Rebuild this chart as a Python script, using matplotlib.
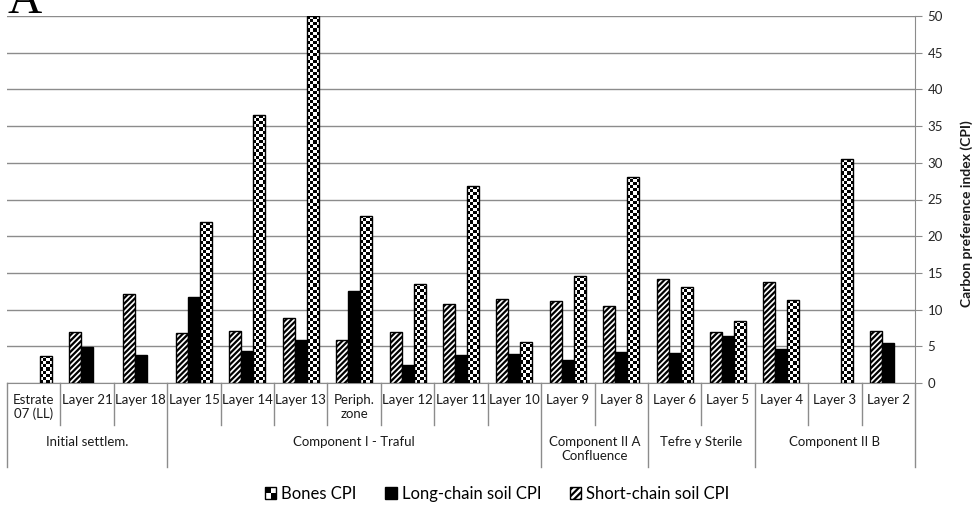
import matplotlib
matplotlib.use('Agg')
import matplotlib.pyplot as plt
import numpy as np
from matplotlib.patches import Rectangle, Patch
from matplotlib.legend_handler import HandlerBase

# Data
layers = ['Estrate\n07 (LL)', 'Layer 21', 'Layer 18', 'Layer 15', 'Layer 14', 'Layer 13',
          'Periph.\nzone', 'Layer 12', 'Layer 11', 'Layer 10', 'Layer 9', 'Layer 8',
          'Layer 6', 'Layer 5', 'Layer 4', 'Layer 3', 'Layer 2']
groups = ['Initial settlem.', 'Component I - Traful', 'Component II A\nConfluence',
          'Tefre y Sterile', 'Component II B']
group_sizes = [3, 7, 2, 2, 3]
short_chain = [np.nan, 6.9, 12.1, 6.8, 7.1, 8.85, 5.9, 7.0, 10.7, 11.4, 11.2, 10.5,
               14.2, 7.0, 13.7, np.nan, 7.1]
long_chain = [np.nan, 4.85, 3.8, 11.7, 4.4, 5.9, 12.6, 2.45, 3.8, 3.9, 3.2, 4.2,
              4.1, 6.35, 4.7, np.nan, 5.5]
bones = [3.7, np.nan, np.nan, 21.9, 36.5, 50.0, 22.8, 13.5, 26.8, 5.6, 14.6, 28.1,
         13.1, 8.5, 11.3, 30.5, np.nan]

plt.rcParams['font.family'] = ['Lato', 'DejaVu Sans']
plt.rcParams['hatch.linewidth'] = 1.6

W, H = 973, 508
fig = plt.figure(figsize=(W / 100, H / 100), dpi=100)
ax_l, ax_r, ax_t, ax_b = 7, 915, 16, 383  # pixel box of plot area
ax = fig.add_axes([ax_l / W, 1 - ax_b / H, (ax_r - ax_l) / W, (ax_b - ax_t) / H])
px_per_unit = (ax_b - ax_t) / 50.0
ax_h = ax_b - ax_t

n = len(layers)
x = np.arange(n)
bw = 0.225


def draw_bars(vals, offset, **kw):
    vals = np.asarray(vals, dtype=float)
    m = ~np.isnan(vals)
    return ax.bar(x[m] + offset, vals[m], width=bw, **kw)


draw_bars(short_chain, -bw, facecolor='white', edgecolor='black', linewidth=1.0,
          hatch='//////', zorder=3)
draw_bars(long_chain, 0, color='black', edgecolor='black', linewidth=1.0, zorder=3)
bone_bars = draw_bars(bones, bw, facecolor='none', edgecolor='black', linewidth=1.0, zorder=4)

# checkerboard fill for the bones bars
cell = 3.1
for rect in bone_bars:
    x0, w, h = rect.get_x(), rect.get_width(), rect.get_height()
    nrows = max(1, int(round(h * px_per_unit / cell)))
    pattern = np.indices((nrows, 4)).sum(axis=0) % 2
    im = ax.imshow(pattern, cmap='gray', extent=(x0, x0 + w, 0, h), aspect='auto',
                   interpolation='nearest', zorder=3.5)
    im.set_clip_path(rect)

ax.set_xlim(-0.5, n - 0.5)
ax.set_ylim(0, 50)

# axes styling
ax.yaxis.tick_right()
ax.set_yticks(np.arange(0, 51, 5))
ax.tick_params(axis='y', length=5, color='#8c8c8c', labelsize=9.5, labelcolor='#262626', pad=4)
ax.set_xticks([])
ax.grid(axis='y', color='#8c8c8c', linewidth=1.0)
ax.set_axisbelow(True)
for s in ['top', 'left']:
    ax.spines[s].set_visible(False)
ax.spines['right'].set_color('#8c8c8c')
ax.spines['bottom'].set_color('#8c8c8c')
fig.text(967 / W, 1 - 214 / H, 'Carbon preference index (CPI)', fontsize=10,
         fontweight='bold', rotation=90, ha='center', va='center', color='#1a1a1a')

# category table below the axis
tr = ax.get_xaxis_transform()
inner = (ax_b - 425) / ax_h
outer = (ax_b - 467) / ax_h
bounds = np.cumsum([0] + group_sizes)
for b in range(n + 1):
    y1 = outer if b in bounds else inner
    ax.plot([b - 0.5, b - 0.5], [0, y1], color='#8c8c8c', lw=1.0, transform=tr, clip_on=False)
for i, lab in enumerate(layers):
    ax.text(x[i], (ax_b - 394) / ax_h, lab, transform=tr, ha='center', va='top',
            fontsize=9.5, linespacing=1.15, color='#1a1a1a')
for g, lab in enumerate(groups):
    mid = (bounds[g] + bounds[g + 1] - 1) / 2
    ax.text(mid, (ax_b - 436) / ax_h, lab, transform=tr, ha='center', va='top',
            fontsize=9.5, linespacing=1.15, color='#1a1a1a')


class CheckerHandler(HandlerBase):
    def create_artists(self, legend, orig_handle, xdescent, ydescent, width, height,
                       fontsize, trans):
        x0, y0 = -xdescent, -ydescent
        hw, hh = width / 2, height / 2
        arts = [Rectangle((x0, y0), width, height, facecolor='white', edgecolor='black',
                          lw=1.0, transform=trans),
                Rectangle((x0, y0 + hh), hw, hh, facecolor='black', lw=0, transform=trans),
                Rectangle((x0 + hw, y0), hw, hh, facecolor='black', lw=0, transform=trans)]
        return arts


h_bones = Patch(facecolor='white', edgecolor='black')
h_long = Patch(facecolor='black', edgecolor='black')
h_short = Patch(facecolor='white', edgecolor='black', hatch='/////')
fig.legend([h_bones, h_long, h_short], ['Bones CPI', 'Long-chain soil CPI', 'Short-chain soil CPI'],
           handler_map={h_bones: CheckerHandler()}, loc='center', bbox_to_anchor=(0.511, 1 - 494 / H),
           ncol=3, frameon=False, fontsize=12, handlelength=0.7, handleheight=0.7,
           handletextpad=0.3, columnspacing=1.7)

# panel letter, cut off at the top like the original
fig.text(7 / W, 1 - 13 / H, 'A', family='Liberation Serif', fontsize=34, va='baseline', ha='left')

fig.savefig('out.png', dpi=100)
